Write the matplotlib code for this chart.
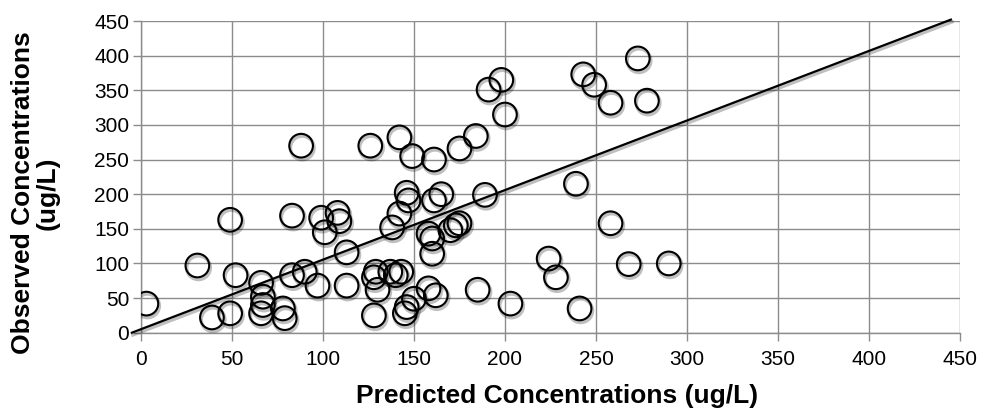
import matplotlib
matplotlib.use("Agg")
import matplotlib.pyplot as plt
import matplotlib.patheffects as pe
import numpy as np

plt.rcParams["font.family"] = ["Liberation Sans", "DejaVu Sans"]

# predicted vs observed concentrations (ug/L)
predicted = [
    3, 31, 39, 49, 49, 52, 66, 67, 67, 66, 78, 79, 83, 90, 97, 113, 113, 101,
    83, 99, 108, 109, 88, 126, 128, 129, 128, 130, 137, 140, 143, 145, 146, 150,
    158, 162, 185, 138, 142, 146, 147, 161, 165, 158, 160, 160, 170, 173, 175,
    189, 142, 149, 161, 175, 184, 191, 198, 200, 203, 224, 228, 239, 241, 243,
    249, 258, 258, 268, 273, 278, 290,
]
observed = [
    42, 97, 22, 28, 163, 83, 72, 52, 40, 28, 35, 21, 83, 88, 68, 68, 116, 145,
    169, 166, 173, 161, 270, 270, 25, 88, 80, 62, 88, 83, 88, 28, 37, 49,
    64, 54, 62, 152, 172, 202, 191, 191, 200, 143, 136, 114, 148, 155, 158,
    199, 282, 255, 250, 266, 284, 351, 365, 315, 42, 107, 80, 215, 35, 373,
    358, 332, 158, 99, 396, 335, 100,
]

# reference line endpoints
ref_x = [-5, 445]
ref_y = [0, 452]

ticks = np.arange(0, 451, 50)
grid_color = "#8c8c8c"

fig = plt.figure(figsize=(9.85, 4.12), dpi=100)
ax = fig.add_axes([0.1431, 0.1925, 0.8315, 0.7565])

shadow = [pe.SimpleLineShadow(offset=(0.8, -1.6), shadow_color="black", alpha=0.25, linewidth=2.5),
          pe.Normal()]

ax.scatter(predicted, observed, s=290, facecolors="none", edgecolors="black",
           linewidths=1.5, zorder=3, path_effects=shadow)
ax.plot(ref_x, ref_y, color="black", linewidth=1.6, zorder=4, clip_on=False,
        path_effects=shadow)

ax.set_xlim(0, 450)
ax.set_ylim(0, 450)
ax.set_xticks(ticks)
ax.set_yticks(ticks)
ax.grid(True, color=grid_color, linewidth=1.0)
ax.set_axisbelow(True)
for side in ["left", "bottom"]:
    ax.spines[side].set_color(grid_color)
    ax.spines[side].set_linewidth(1.0)
for side in ["top", "right"]:
    ax.spines[side].set_visible(False)
ax.tick_params(axis="both", direction="out", length=5.5, width=1.0, color=grid_color,
               labelsize=15, labelcolor="black")
ax.tick_params(axis="x", pad=7)
ax.tick_params(axis="y", pad=3)

fig.text(0.5655, 0.039, "Predicted Concentrations (ug/L)", ha="center", va="center",
         fontsize=19, fontweight="bold")
fig.text(0.036, 0.532, "Observed Concentrations\n(ug/L)", ha="center", va="center",
         rotation=90, fontsize=19, fontweight="bold", linespacing=1.0)

fig.savefig("out.png", dpi=100)
